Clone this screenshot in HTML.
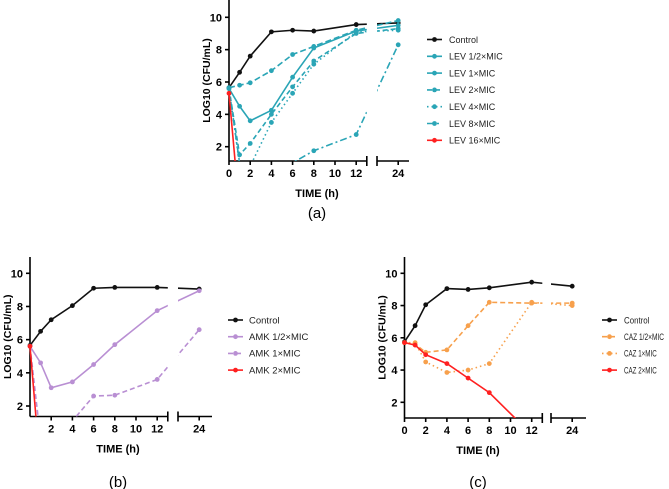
<!DOCTYPE html>
<html><head><meta charset="utf-8">
<style>
html,body{margin:0;padding:0;background:#fff;}
svg{display:block;font-family:"Liberation Sans",Arial,sans-serif;}
</style></head>
<body>
<svg id="fig" width="669" height="489" viewBox="0 0 669 489" xmlns="http://www.w3.org/2000/svg"></svg>
<script>
// ---- data ----
const timesA = [0,1,2,4,6,8,12,24];
const ctrlA  = [5.65,6.6,7.6,9.1,9.2,9.15,9.55,9.65];
const lev05  = [5.65,5.8,5.95,6.7,7.7,8.2,9.2,9.8];
const lev1   = [5.6,4.5,3.6,4.25,6.3,8.1,9.15,9.5];
const lev2   = [5.6,1.5,2.2,4.0,5.7,7.3,9.0,9.3];
const lev4   = [5.6,0.9,0.8,3.5,5.3,7.1,9.1,9.2];
const lev8   = [5.6,1.0,0,0,1.0,1.75,2.75,8.3];
const lev16  = [5.3,-2];
const timesB = [0,1,2,4,6,8,12,24];
const ctrlB  = [5.65,6.5,7.2,8.05,9.1,9.15,9.15,9.05];
const amk05  = [5.6,4.6,3.1,3.45,4.5,5.7,7.75,8.95];
const amk1   = [5.6,0,-1,1.1,2.6,2.65,3.6,6.6];
const amk2   = [5.6,-2];
const timesC = [0,1,2,4,6,8,12,24];
const ctrlC  = [5.75,6.75,8.05,9.05,9.0,9.1,9.45,9.2];
const caz05  = [5.7,5.6,5.1,5.25,6.75,8.2,8.15,8.15];
const caz1   = [5.7,5.7,4.5,3.85,4.0,4.4,8.2,8.0];
const caz2   = [5.7,5.55,4.95,4.4,3.5,2.6,0];
const yTicks = [2,4,6,8,10];
const xTicksA = [0,2,4,6,8,10,12,24];
const xTicksB = [2,4,6,8,10,12,24];

const NS="http://www.w3.org/2000/svg";
const svg=document.getElementById('fig');
function mk(tag,attrs,parent){const e=document.createElementNS(NS,tag);for(const k in attrs)e.setAttribute(k,attrs[k]);(parent||svg).appendChild(e);return e;}

function panel(id,cfg){
  const g=mk('g',{});
  
  
  const X=t=> t<=13 ? cfg.x0+t*cfg.ph : cfg.s2+(t-22)*cfg.ph;
  const Y=v=> cfg.y2+(2-v)*(cfg.y2-cfg.y10)/8;
  const defs=mk('defs',{},g);
  const c1=mk('clipPath',{id:id+'c1'},defs);
  mk('rect',{x:cfg.x0-8,y:cfg.top,width:(X(13)-cfg.x0+8),height:cfg.bot-cfg.top},c1);
  const c2=mk('clipPath',{id:id+'c2'},defs);
  mk('rect',{x:cfg.s2,y:cfg.top,width:cfg.e2-cfg.s2+10,height:cfg.bot-cfg.top},c2);
  const ax=mk('g',{stroke:'#000','stroke-width':1.6,fill:'none'},g);
  
  
  mk('line',{x1:cfg.x0,y1:cfg.top,x2:cfg.x0,y2:cfg.bot},ax);
  mk('line',{x1:cfg.x0,y1:cfg.bot,x2:X(13),y2:cfg.bot},ax);
  mk('line',{x1:X(13),y1:cfg.bot-5,x2:X(13),y2:cfg.bot+5},ax);
  mk('line',{x1:cfg.s2,y1:cfg.bot,x2:cfg.e2,y2:cfg.bot},ax);
  mk('line',{x1:cfg.s2,y1:cfg.bot-5,x2:cfg.s2,y2:cfg.bot+5},ax);
  yTicks.forEach(v=>{
    mk('line',{x1:cfg.x0-4,y1:Y(v),x2:cfg.x0,y2:Y(v)},ax);
    const t=mk('text',{x:cfg.x0-7,y:Y(v)+4,'text-anchor':'end','font-size':11,'font-weight':'bold',fill:'#000',stroke:'none'},g);
    t.textContent=v;
    
    
  });
  cfg.xt.forEach(v=>{
    mk('line',{x1:X(v),y1:cfg.bot,x2:X(v),y2:cfg.bot+4},ax);
    const t=mk('text',{x:X(v),y:cfg.bot+16,'text-anchor':'middle','font-size':11,'font-weight':'bold',fill:'#000'},g);
    t.textContent=v;
    
    
  });
  const yt=mk('text',{transform:`translate(${cfg.x0-19},${(cfg.top+cfg.bot)/2}) rotate(-90)`,'text-anchor':'middle','font-size':10.5,'font-weight':'bold',fill:'#000'},g);
  yt.textContent='LOG10  (CFU/mL)';
  
  
  const xt=mk('text',{x:cfg.xl,y:cfg.bot+36,'text-anchor':'middle','font-size':11,'font-weight':'bold',fill:'#000'},g);
  xt.textContent='TIME (h)';
  
  
  const lab=mk('text',{x:cfg.xl,y:cfg.laby,'text-anchor':'middle','font-size':15,fill:'#000'},g);
  lab.textContent=cfg.label;
  
  
  cfg.series.forEach((s,i)=>{
    const sg=mk('g',{},g);
    
    
    const pts=s.v.map((v,j)=>[X(s.t[j]),Y(v)]);
    const d='M'+pts.map(p=>p.join(',')).join('L');
    ['c1','c2'].forEach(c=>{
      const p=mk('path',{d:d,fill:'none',stroke:s.c,'stroke-width':1.6,'stroke-dasharray':s.dash||'none','clip-path':`url(#${id}${c})`},sg);
      
      
    });
    pts.forEach((p,j)=>{
      if(s.v[j]<1.2)return;
      if(p[1]>cfg.bot)return;
      const m=mk('circle',{cx:p[0],cy:p[1],r:s.r||2.4,fill:s.c},sg);
      
      
    });
    const ly=cfg.ly0+i*cfg.lstep;
    const lg=mk('g',{},g);
    
    
    mk('line',{x1:cfg.lx,y1:ly,x2:cfg.lx+15,y2:ly,stroke:s.c,'stroke-width':1.6,'stroke-dasharray':s.dash||'none'},lg);
    mk('circle',{cx:cfg.lx+7.5,cy:ly,r:2.4,fill:s.c},lg);
    const ta={x:cfg.lx+cfg.lgap,y:ly+3.3,'font-size':cfg.lfs,fill:'#222'};
    if(cfg.tl){ta.textLength=cfg.tl*s.name.length/11;ta.lengthAdjust='spacingAndGlyphs';}
    const tt=mk('text',ta,lg);
    tt.textContent=s.name;
  });
}
const teal='#2aa5b6', purple='#b98fd3', orange='#f7a04c', red='#ff2020';
panel('panel-a',{x0:229,ph:10.6,s2:377,e2:409,y10:17.3,y2:146.7,top:0,bot:161,xt:xTicksA,xl:317,laby:218,label:'(a)',lx:427,lgap:22,lfs:9,ly0:39.5,lstep:16.8,
 series:[
  {name:'Control',t:timesA,v:ctrlA,c:'#111'},
  {name:'LEV 1/2×MIC',t:timesA,v:lev05,c:teal,dash:'6,3'},
  {name:'LEV 1×MIC',t:timesA,v:lev1,c:teal},
  {name:'LEV 2×MIC',t:timesA,v:lev2,c:teal,dash:'5,3'},
  {name:'LEV 4×MIC',t:timesA,v:lev4,c:teal,dash:'1.5,3'},
  {name:'LEV 8×MIC',t:timesA,v:lev8,c:teal,dash:'7,3,2,3'},
  {name:'LEV 16×MIC',t:[0,1],v:lev16,c:red}
 ]});
panel('panel-b',{x0:30,ph:10.6,s2:178,e2:212,y10:273.3,y2:406,top:257,bot:416.5,xt:xTicksB,xl:118,laby:487,label:'(b)',lx:228,lgap:21,lfs:9.5,ly0:320,lstep:16.7,
 series:[
  {name:'Control',t:timesB,v:ctrlB,c:'#111'},
  {name:'AMK 1/2×MIC',t:timesB,v:amk05,c:purple},
  {name:'AMK 1×MIC',t:timesB,v:amk1,c:purple,dash:'5,3'},
  {name:'AMK 2×MIC',t:[0,1],v:amk2,c:red}
 ]});
panel('panel-c',{x0:404.5,ph:10.6,s2:551,e2:586,y10:273.3,y2:402.3,top:257,bot:418,xt:xTicksA,xl:478,laby:487,label:'(c)',lx:602,lgap:22,lfs:9,tl:40,ly0:320,lstep:16.7,
 series:[
  {name:'Control',t:timesC,v:ctrlC,c:'#111'},
  {name:'CAZ 1/2×MIC',t:timesC,v:caz05,c:orange,dash:'5,3'},
  {name:'CAZ 1×MIC',t:timesC,v:caz1,c:orange,dash:'1.5,3'},
  {name:'CAZ 2×MIC',t:[0,1,2,4,6,8,12],v:caz2,c:red}
 ]});
</script>
</body></html>
